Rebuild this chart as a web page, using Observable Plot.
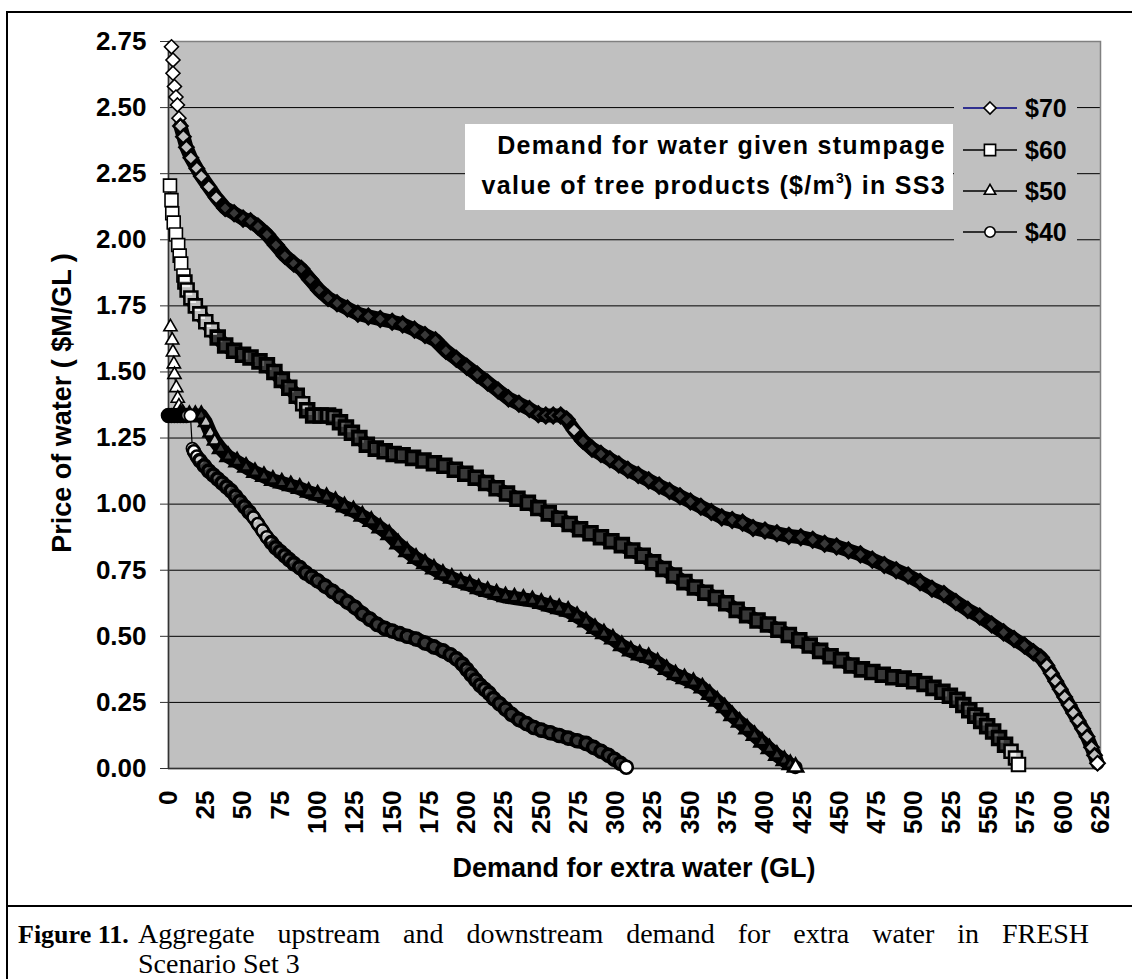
<!DOCTYPE html>
<html><head><meta charset="utf-8">
<script src="https://cdn.jsdelivr.net/npm/d3@7"></script>
<script src="https://cdn.jsdelivr.net/npm/@observablehq/plot@0.6"></script>
<style>
body{margin:0;background:#fff;}
#wrap{position:relative;width:1132px;height:979px;overflow:hidden;font-family:"Liberation Sans",Arial,sans-serif;}
#frame{position:absolute;left:6px;top:11px;width:1160px;height:1000px;border-left:2px solid #000;border-top:2px solid #000;box-sizing:border-box;}
#sep{position:absolute;left:6px;top:905px;width:1160px;height:0;border-top:2px solid #000;}
#chart{position:absolute;left:0;top:0;}
#legbox{position:absolute;left:954px;top:92px;width:123px;height:160px;background:#c0c0c0;}
#titlebox{position:absolute;left:465px;top:124px;width:488px;height:86px;background:#fff;box-sizing:border-box;padding:1px 7px 0 0;text-align:right;font-weight:bold;font-size:25px;line-height:40px;letter-spacing:1.3px;color:#000;white-space:nowrap;}
#titlebox sup{font-size:14px;line-height:0;vertical-align:11px;letter-spacing:0;}
#overlay{position:absolute;left:0;top:0;}
</style></head>
<body>
<div id="wrap">
  <div id="frame"></div>
  <div id="sep"></div>
  <div id="chart"></div>
  <div id="legbox"></div>
  <div id="titlebox"><div>Demand for water given stumpage</div><div>value of tree products ($/m<sup>3</sup>) in SS3</div></div>
  <svg id="overlay" width="1132" height="979"></svg>
</div>
<script>
// ---- data (x = GL, y = $M/GL) ----
const xTicks = [0,25,50,75,100,125,150,175,200,225,250,275,300,325,350,375,400,425,450,475,500,525,550,575,600,625];
const yTicks = [0,0.25,0.5,0.75,1,1.25,1.5,1.75,2,2.25,2.5,2.75];
const seriesLabels = ["$70","$60","$50","$40"];

const s70 = [[2,2.73],[3,2.68],[3,2.63],[4,2.58],[5,2.54],[6,2.51],[7,2.46],[8,2.43],[10,2.39],[12,2.35],[15,2.31],[19,2.27],[22,2.24],[27,2.20],[32,2.16],[38,2.12],[44,2.10],[50,2.08],[55,2.07],[60,2.05],[66,2.02],[72,1.98],[78,1.94],[84,1.91],[89,1.89],[95,1.85],[101,1.81],[107,1.78],[113,1.76],[120,1.74],[127,1.72],[134,1.71],[142,1.70],[150,1.69],[157,1.68],[165,1.66],[172,1.64],[179,1.62],[186,1.58],[193,1.55],[200,1.52],[207,1.49],[214,1.46],[221,1.43],[228,1.40],[235,1.38],[242,1.36],[248,1.34],[253,1.335],[258,1.335],[263,1.335],[267,1.32],[272,1.28],[278,1.24],[284,1.21],[290,1.19],[296,1.17],[302,1.15],[308,1.13],[315,1.11],[322,1.09],[329,1.07],[336,1.05],[343,1.03],[350,1.01],[357,0.99],[364,0.97],[371,0.95],[378,0.94],[385,0.93],[392,0.91],[400,0.90],[408,0.89],[416,0.88],[424,0.875],[432,0.865],[440,0.85],[448,0.84],[456,0.825],[464,0.81],[472,0.79],[480,0.77],[488,0.75],[496,0.73],[504,0.705],[512,0.68],[520,0.66],[528,0.63],[536,0.60],[544,0.575],[552,0.545],[560,0.515],[567,0.49],[574,0.465],[580,0.44],[585,0.42],[589,0.39],[592,0.36],[595,0.33],[598,0.30],[601,0.27],[604,0.24],[607,0.21],[610,0.18],[613,0.15],[616,0.12],[619,0.08],[621,0.05],[623,0.02]];

const s60 = [[1,2.205],[2,2.15],[2.5,2.10],[3.5,2.065],[5,2.02],[6.5,1.98],[7.5,1.94],[8.5,1.91],[10,1.865],[11,1.84],[12.5,1.81],[15,1.78],[18,1.75],[21,1.72],[25,1.69],[29,1.66],[33,1.63],[38,1.60],[44,1.58],[50,1.565],[55,1.555],[61,1.54],[66,1.525],[71,1.50],[76,1.47],[81,1.44],[86,1.41],[90,1.38],[93,1.355],[97,1.335],[102,1.335],[107,1.335],[111,1.33],[115,1.31],[119,1.29],[123,1.27],[128,1.25],[133,1.225],[139,1.21],[145,1.20],[151,1.19],[157,1.185],[164,1.175],[171,1.165],[178,1.155],[185,1.145],[192,1.13],[199,1.115],[206,1.10],[213,1.08],[220,1.06],[227,1.04],[234,1.02],[241,1.005],[248,0.985],[255,0.965],[262,0.945],[269,0.925],[276,0.905],[283,0.89],[290,0.875],[297,0.86],[304,0.845],[311,0.825],[318,0.805],[325,0.78],[332,0.755],[339,0.73],[346,0.705],[353,0.685],[360,0.665],[367,0.645],[374,0.625],[381,0.60],[388,0.58],[395,0.56],[402,0.545],[409,0.525],[416,0.505],[423,0.485],[430,0.465],[437,0.445],[444,0.425],[451,0.41],[458,0.39],[465,0.375],[472,0.365],[479,0.355],[486,0.345],[493,0.34],[500,0.33],[507,0.32],[513,0.305],[519,0.29],[524,0.275],[529,0.26],[533,0.24],[537,0.22],[541,0.20],[545,0.18],[549,0.16],[553,0.14],[557,0.115],[561,0.09],[565,0.065],[568,0.04],[570,0.015]];

const s50 = [[1.3,1.67],[2.5,1.62],[3,1.575],[3.6,1.53],[4,1.49],[5.2,1.44],[6.2,1.40],[7,1.37],[8,1.345],[10,1.335],[14,1.335],[18,1.335],[22,1.335],[25,1.31],[28,1.27],[31,1.24],[35,1.21],[40,1.18],[46,1.16],[52,1.14],[58,1.12],[64,1.105],[70,1.09],[76,1.08],[82,1.07],[88,1.06],[94,1.045],[100,1.035],[106,1.025],[112,1.01],[118,0.99],[124,0.975],[130,0.955],[136,0.935],[142,0.91],[148,0.885],[154,0.85],[160,0.82],[166,0.795],[172,0.775],[178,0.755],[184,0.735],[190,0.72],[196,0.705],[202,0.695],[208,0.68],[214,0.67],[220,0.66],[226,0.65],[232,0.645],[238,0.64],[244,0.635],[250,0.625],[256,0.615],[262,0.605],[268,0.595],[274,0.575],[280,0.555],[286,0.53],[292,0.51],[298,0.49],[304,0.465],[310,0.445],[316,0.43],[322,0.42],[328,0.40],[334,0.375],[340,0.355],[346,0.34],[352,0.325],[358,0.305],[363,0.28],[368,0.255],[373,0.23],[378,0.20],[383,0.175],[388,0.15],[393,0.125],[398,0.10],[403,0.075],[408,0.05],[413,0.03],[417,0.015],[420.5,0.005]];

const s40 = [[0,1.335],[2,1.335],[4,1.335],[6,1.335],[8,1.335],[10,1.335],[12,1.335],[14.7,1.335],[16,1.21],[17,1.20],[19,1.18],[21,1.165],[24,1.145],[27,1.125],[30,1.11],[33,1.095],[36,1.08],[39,1.065],[42,1.05],[45,1.03],[48,1.01],[51,0.99],[54,0.97],[57,0.95],[60,0.925],[63,0.90],[66,0.875],[69,0.855],[72,0.835],[75,0.82],[78,0.805],[81,0.79],[84,0.775],[88,0.76],[92,0.74],[96,0.725],[100,0.71],[105,0.69],[110,0.67],[115,0.65],[120,0.63],[125,0.61],[130,0.585],[135,0.565],[140,0.545],[145,0.53],[150,0.52],[155,0.51],[160,0.50],[166,0.49],[172,0.475],[178,0.46],[184,0.445],[189,0.43],[193,0.415],[197,0.395],[200,0.375],[203,0.355],[206,0.335],[209,0.315],[212,0.30],[215,0.285],[218,0.265],[222,0.245],[226,0.225],[230,0.205],[235,0.185],[240,0.17],[245,0.155],[250,0.145],[256,0.135],[262,0.125],[268,0.115],[274,0.105],[280,0.095],[285,0.08],[290,0.065],[295,0.05],[299,0.035],[303,0.02],[307,0.005]];

// ---- styling ----
const seriesData = [s70, s60, s50, s40];
const symbols = ["diamond2","square","triangle","circle"];
const radii = [6.3, 7.3, 4.9, 6.0];
const legendLine = ["#000080","#000","#000","#000"];

// The original markers sit about 1 GL apart: where the curve is steep they spread out
// (white markers), where it is flat they pile up into a dark band. Marker look follows that.
function steepness(data) {
  return data.map((d, i) => {
    const a = data[Math.max(0, i - 1)], b = data[Math.min(data.length - 1, i + 1)];
    const dx = Math.max(Math.abs(b[0] - a[0]), 0.5);
    const slopePx = Math.abs(b[1] - a[1]) * 264 / dx;   // vertical px per GL
    return Math.hypot(1.49, slopePx);                  // marker spacing in px
  });
}
const strokeFor = s => s >= 7 ? 1.6 : s >= 2.4 ? 2.6 : 3.6;
const fillOpFor = s => s >= 7 ? 1 : s >= 2.4 ? 0.75 : 0.22;

const marks = [
  Plot.frame({fill:"#c0c0c0"}),
  Plot.ruleY(yTicks.filter(v => v > 0 && v < 2.75), {stroke:"#000", strokeWidth:1}),
  Plot.frame({stroke:"#808080", strokeWidth:1.5}),
  Plot.ruleX([0], {stroke:"#333", strokeWidth:1.5}),
  Plot.ruleY([0], {stroke:"#333", strokeWidth:1.5}),
  Plot.axisY(yTicks, {tickFormat: d => d.toFixed(2), tickSize:8, tickPadding:14, fontSize:26, fontWeight:"bold", stroke:"#333", label:null}),
  Plot.axisX(xTicks, {tickFormat: d => String(d), tickRotate:-90, tickSize:0, tickPadding:22, fontSize:26, fontWeight:"bold", label:null})
];
seriesData.forEach((data, i) => {
  const sp = steepness(data);
  const rows = data.map((d, j) => ({x: d[0], y: d[1], sp: sp[j]}));
  marks.push(Plot.line(rows, {x:"x", y: d => d.sp >= 7 ? NaN : d.y, stroke:"#000", strokeWidth:14, strokeLinejoin:"round", strokeLinecap:"round"}));
  marks.push(Plot.line(rows, {x:"x", y:"y", stroke:"#000", strokeWidth:1.2}));
  marks.push(Plot.dot(rows, {x:"x", y:"y", symbol: symbols[i], r: radii[i], fill:"#fff", fillOpacity: d => fillOpFor(d.sp), stroke:"#000", strokeWidth: d => strokeFor(d.sp)}));
  // final marker drawn cleanly on top, as in the reference
  marks.push(Plot.dot(rows.slice(-1), {x:"x", y:"y", symbol: symbols[i], r: radii[i], fill:"#fff", stroke:"#000", strokeWidth:1.6}));
});

const chart = Plot.plot({
  width:1132, height:900,
  marginLeft:168, marginRight:32, marginTop:41, marginBottom:132,
  x:{domain:[0,625]},
  y:{domain:[0,2.75]},
  style:{fontFamily:"'Liberation Sans', Arial, sans-serif", background:"transparent", color:"#000", overflow:"visible"},
  marks
});
document.getElementById("chart").appendChild(chart);

// ---- overlay: axis titles, legend, caption ----
const ov = d3.select("#overlay");
ov.append("text").attr("transform","translate(62,403) rotate(-90)").attr("text-anchor","middle").attr("dy","0.35em")
  .attr("font-family","'Liberation Sans', Arial").attr("font-weight","bold").attr("font-size",27).text("Price of water ( $M/GL )");
ov.append("text").attr("x",634).attr("y",868).attr("text-anchor","middle").attr("dy","0.35em")
  .attr("font-family","'Liberation Sans', Arial").attr("font-weight","bold").attr("font-size",27).text("Demand for extra water (GL)");

const legY = [108,150,191,232];
const symMap = {diamond2: d3.symbolDiamond2, square: d3.symbolSquare, triangle: d3.symbolTriangle, circle: d3.symbolCircle};
seriesLabels.forEach((lab, i) => {
  const g = ov.append("g");
  g.append("line").attr("x1",963).attr("x2",1017).attr("y1",legY[i]).attr("y2",legY[i]).attr("stroke",legendLine[i]).attr("stroke-width",1.5);
  g.append("path").attr("d", d3.symbol(symMap[symbols[i]], Math.PI*radii[i]*radii[i]*0.75)())
    .attr("transform",`translate(990,${legY[i]})`).attr("fill","#fff").attr("stroke","#000").attr("stroke-width",1.6);
  g.append("text").attr("x",1025).attr("y",legY[i]).attr("dy","0.36em").attr("font-family","'Liberation Sans', Arial")
    .attr("font-weight","bold").attr("font-size",25).text(lab);
});

const cap = ov.append("g").attr("font-family","'Liberation Serif','Times New Roman',serif");
cap.append("text").attr("x",18).attr("y",943).attr("font-weight","bold").attr("font-size",26).text("Figure 11.");
const line1 = cap.append("text").attr("x",138).attr("y",943).attr("font-size",28).text("Aggregate upstream and downstream demand for extra water in FRESH");
const natural = line1.node().getComputedTextLength();
line1.attr("word-spacing", Math.max(0, ((1105 - 138) - natural) / 10));
cap.append("text").attr("x",138).attr("y",973).attr("font-size",28).text("Scenario Set 3");
</script>
</body></html>
